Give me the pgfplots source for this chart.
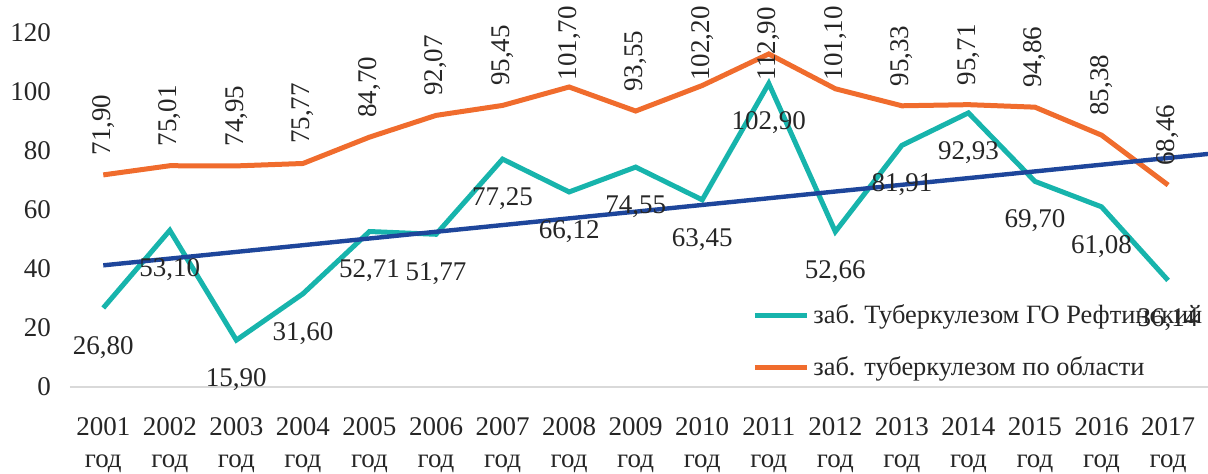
\documentclass[border=0pt]{standalone}
\usepackage{pgfplots}
\pgfplotsset{compat=1.18}
\usepackage{pgfplotstable}
\usepackage{fontspec}
\setmainfont{Liberation Serif}
\definecolor{tealc}{RGB}{23,180,172}
\definecolor{orangec}{RGB}{240,108,45}
\definecolor{bluec}{RGB}{30,70,155}
\definecolor{axgray}{RGB}{217,217,217}

% sh = downward shift (pt) of the rotated label where it would leave the chart area
\pgfplotstableread{
x r o rl ol sh
0 26.80 71.90 26,80 71,90 0
1 53.10 75.01 53,10 75,01 0
2 15.90 74.95 15,90 74,95 0
3 31.60 75.77 31,60 75,77 0
4 52.71 84.70 52,71 84,70 0
5 51.77 92.07 51,77 92,07 0
6 77.25 95.45 77,25 95,45 0
7 66.12 101.70 66,12 101,70 6.5
8 74.55 93.55 74,55 93,55 0
9 63.45 102.20 63,45 102,20 7.25
10 102.90 112.90 102,90 112,90 23
11 52.66 101.10 52,66 101,10 5.6
12 81.91 95.33 81,91 95,33 0
13 92.93 95.71 92,93 95,71 0
14 69.70 94.86 69,70 94,86 0
15 61.08 85.38 61,08 85,38 0
16 36.14 68.46 36,14 68,46 0
}\data

\begin{document}
\begin{tikzpicture}
\useasboundingbox (-35pt,-43pt) rectangle (569pt,193.5pt);
\begin{axis}[
  at={(0,0)}, anchor=south west,
  scale only axis, width=569pt, height=177pt,
  xmin=-0.5, xmax=16.6, ymin=0, ymax=120,
  separate axis lines,
  axis x line*=bottom, axis y line*=left,
  y axis line style={draw=none},
  x axis line style={axgray, line width=0.75pt, -},
  major tick length=0pt,
  ytick={0,20,...,120},
  xtick={0,...,16},
  xticklabels={{2001\\год},{2002\\год},{2003\\год},{2004\\год},{2005\\год},{2006\\год},{2007\\год},{2008\\год},{2009\\год},{2010\\год},{2011\\год},{2012\\год},{2013\\год},{2014\\год},{2015\\год},{2016\\год},{2017\\год}},
  xticklabel style={align=center, yshift=-11.5pt},
  yticklabel style={xshift=-6pt},
  tick label style={font=\fontsize{13.5}{16}\selectfont, text=black!85},
  /pgf/number format/assume math mode=true,
  clip=false,
  legend style={at={(0.594,0.0)}, anchor=south west, draw=none, fill=none,
    font=\fontsize{13.2}{16}\selectfont, row sep=11pt, text=black!85},
  legend cell align=left,
  legend image code/.code={\draw[#1, line width=2.5pt] (0pt,0pt) -- (26pt,0pt);},
]
\addplot[tealc, line width=2.5pt, mark=none,
  nodes near coords, point meta=explicit symbolic,
  every node near coord/.append style={anchor=north, yshift=-11pt, inner sep=2pt,
    font=\fontsize{13.5}{16}\selectfont, text=black!85}]
  table[x=x, y=r, meta=rl] {\data};
\addlegendentry{заб. Туберкулезом ГО Рефтинский}
\addplot[orangec, line width=2.5pt, mark=none,
  nodes near coords, point meta=explicit symbolic,
  visualization depends on={\thisrow{sh} \as \lsh},
  every node near coord/.append style={yshift=-1pt*\lsh, rotate=90, anchor=west, inner xsep=8.5pt,
    font=\fontsize{13.5}{16}\selectfont, text=black!85}]
  table[x=x, y=o, meta=ol] {\data};
\addlegendentry{заб. туберкулезом по области}
\addplot[bluec, line width=2.2pt, mark=none, forget plot] coordinates {(0,41.25) (16.6,79.0)};
\end{axis}
\end{tikzpicture}
\end{document}
